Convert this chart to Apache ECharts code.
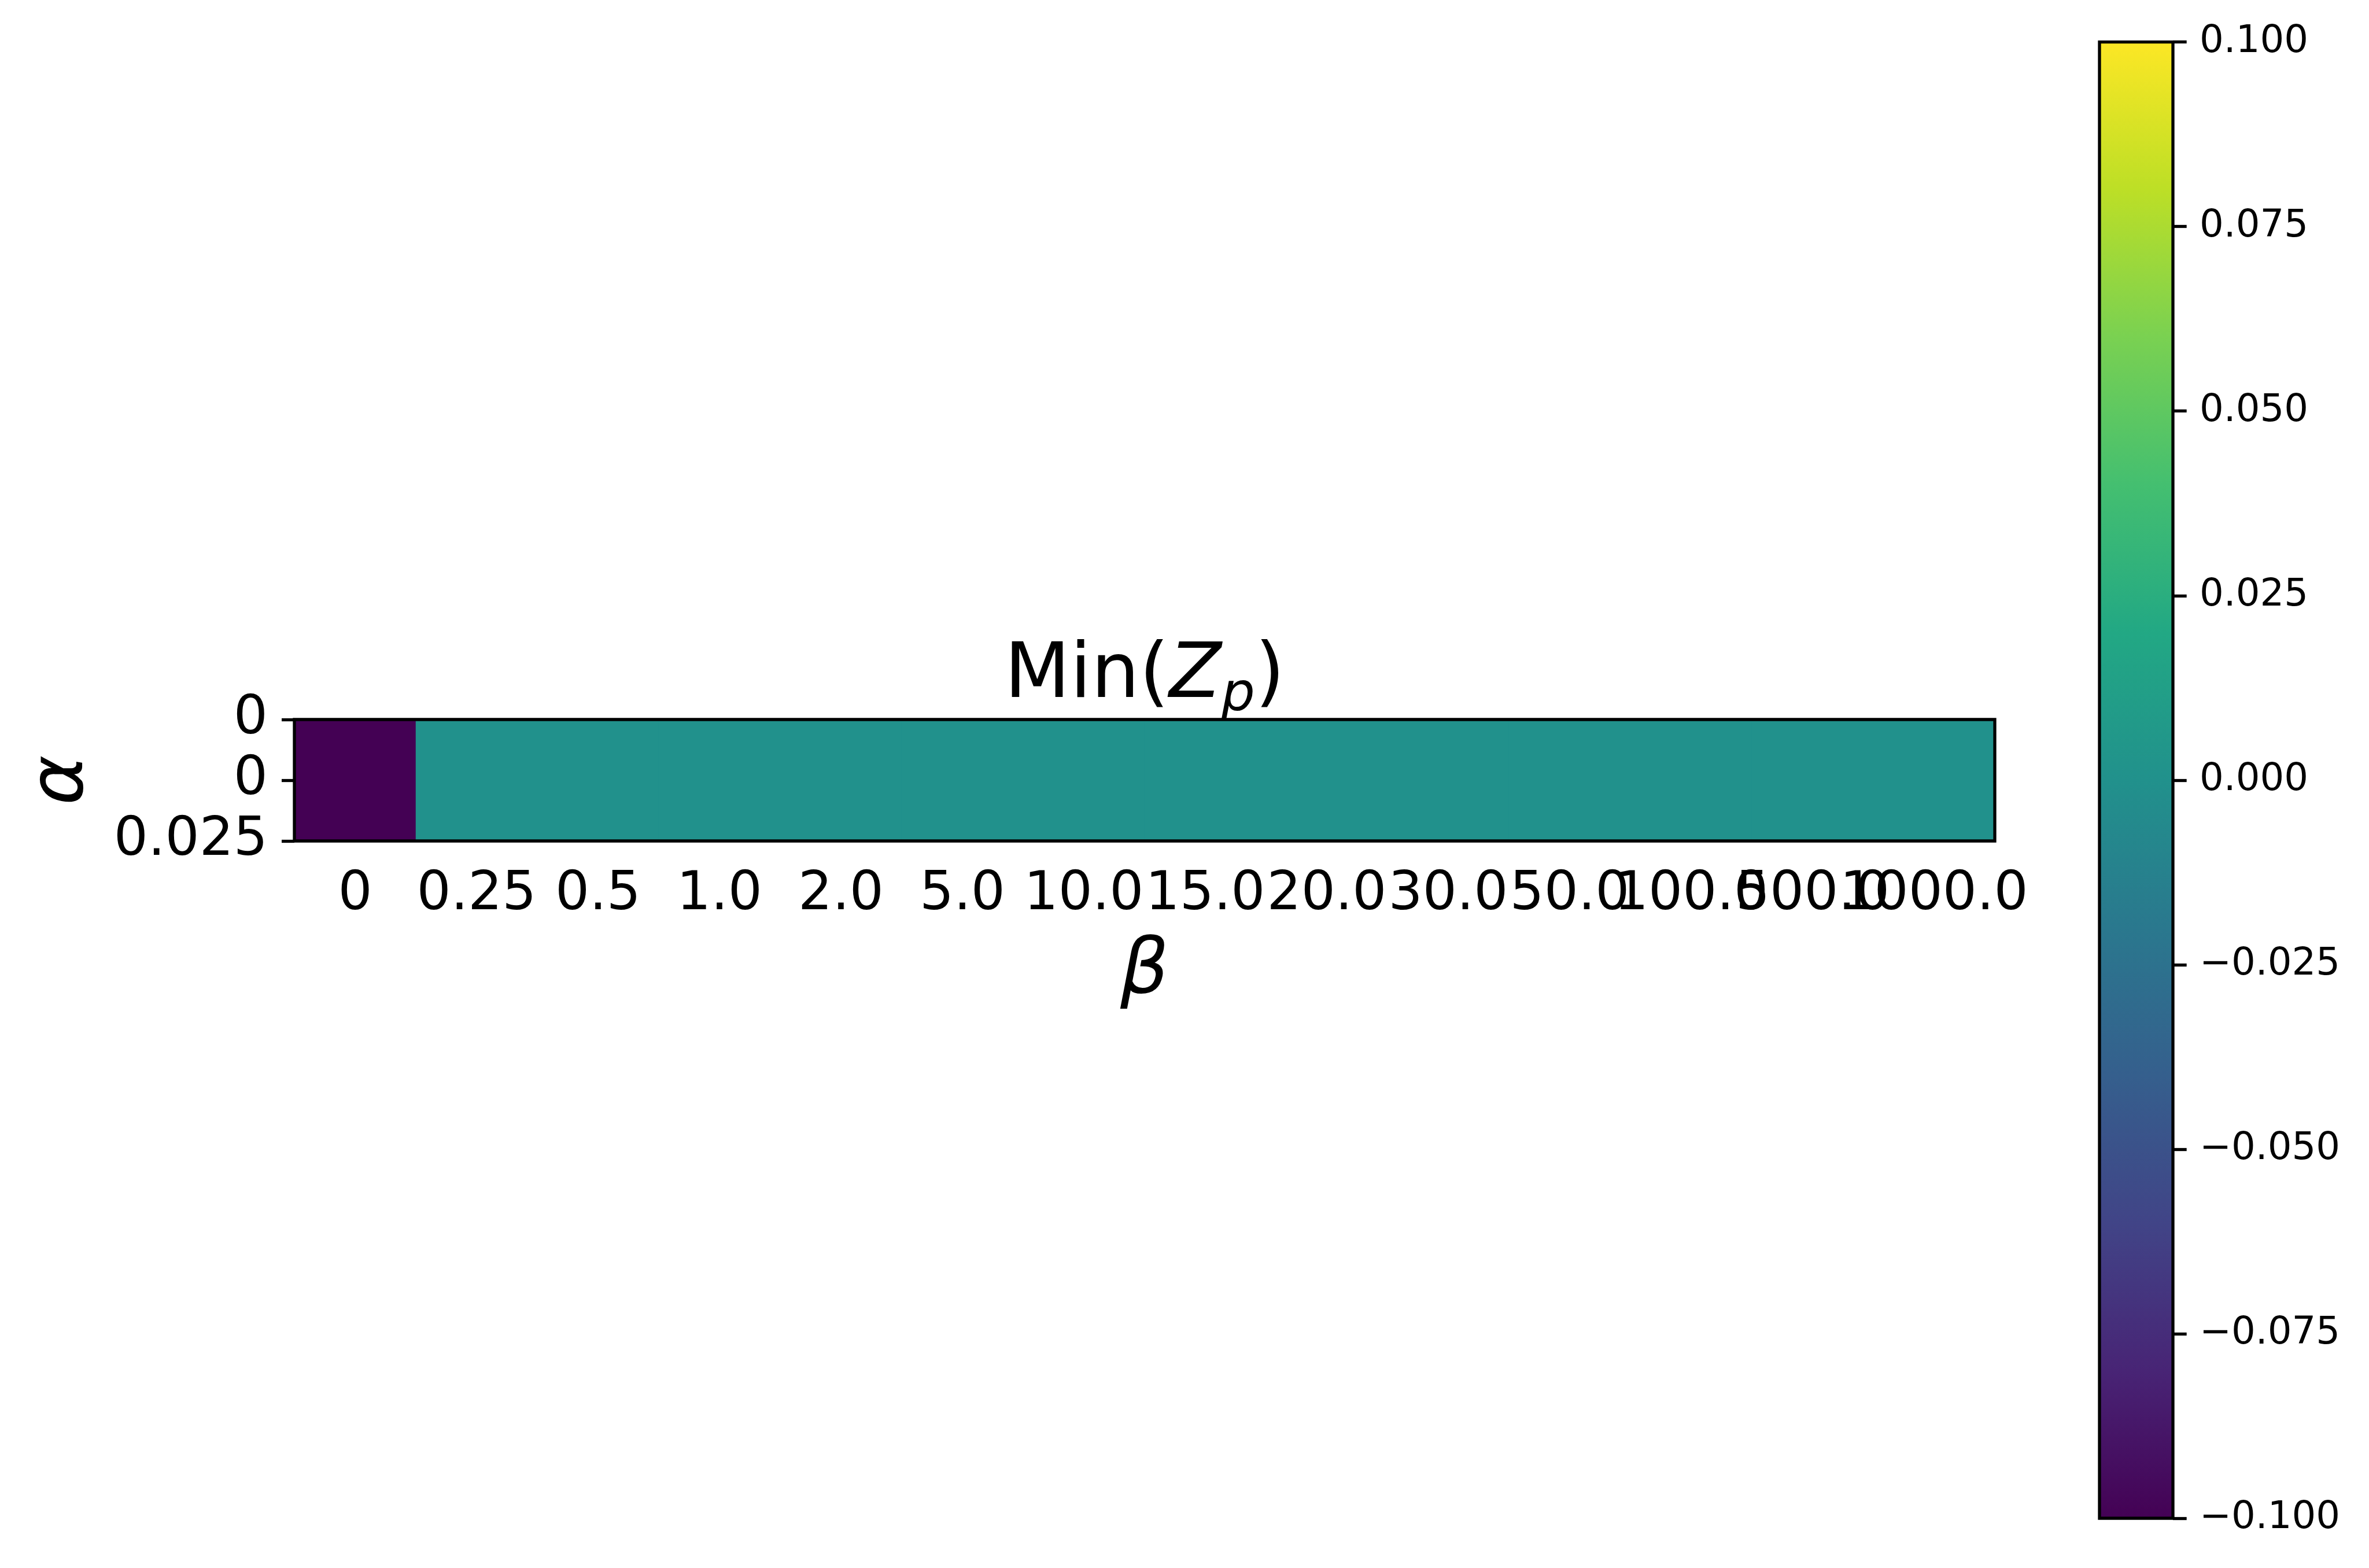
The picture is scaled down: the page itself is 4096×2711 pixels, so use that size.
<!DOCTYPE html>
<html><head><meta charset="utf-8">
<script src="https://cdn.jsdelivr.net/npm/echarts@6/dist/echarts.min.js"></script>
<style>html,body{margin:0;padding:0;background:#fff}#c{width:4096px;height:2711px}</style>
</head><body><div id="c"></div>
<script>
// ---- data ----
const betaLabels = ['0','0.25','0.5','1.0','2.0','5.0','10.0','15.0','20.0','30.0','50.0','100.0','500.0','1000.0'];
const alphaRows = ['0'];
const minZp = [-0.1, 0, 0, 0, 0, 0, 0, 0, 0, 0, 0, 0, 0, 0];
const alphaTickLabels = ['0', '0', '0.025'];
const colorbarTickLabels = ['\u22120.100','\u22120.075','\u22120.050','\u22120.025','0.000','0.025','0.050','0.075','0.100'];
const colorMin = -0.1, colorMax = 0.1, colorStep = 0.025;
const viridis = ['#440154','#482475','#414487','#355f8d','#2a788e','#21918c','#22a884','#44bf70','#7ad151','#bddf26','#fde725'];

// ---- chart ----
const FONT = 'DejaVu Sans';
const chart = echarts.init(document.getElementById('c'), null, {renderer: 'canvas', width: 4096, height: 2711});
const tickStyle = {color: '#000', width: 5.3};
const gradStops = viridis.map((c, i) => ({offset: i / (viridis.length - 1), color: c}));

const option = {
  animation: false,
  backgroundColor: '#fff',
  grid: [
    {left: 509, top: 1244, width: 2940, height: 210, show: true, z: 10,
     borderColor: '#000', borderWidth: 5.3, backgroundColor: 'transparent'},
    {left: 3630, top: 72.6, width: 127, height: 2552.4, show: true,
     borderColor: '#000', borderWidth: 5.3,
     backgroundColor: new echarts.graphic.LinearGradient(0, 1, 0, 0, gradStops)}
  ],
  xAxis: [
    {type: 'category', gridIndex: 0, data: betaLabels,
     axisLine: {show: false},
     axisTick: {show: true, alignWithLabel: true, length: 23, lineStyle: tickStyle},
     axisLabel: {interval: 0, hideOverlap: false, margin: 47, fontSize: 93, color: '#000', fontFamily: FONT},
     splitLine: {show: false},
     name: 'β', nameLocation: 'middle', nameGap: 163,
     nameTextStyle: {fontSize: 131.5, fontStyle: 'italic', fontFamily: FONT, color: '#000'}},
    {type: 'category', gridIndex: 1, data: [''], show: false}
  ],
  yAxis: [
    {type: 'category', gridIndex: 0, data: alphaRows, show: false},
    {type: 'value', gridIndex: 0, position: 'left', min: -0.5, max: 0.5, interval: 0.5, inverse: true,
     axisLine: {show: false},
     axisTick: {show: true, length: 22, lineStyle: tickStyle},
     axisLabel: {formatter: (v, i) => alphaTickLabels[i], margin: 46, fontSize: 93, color: '#000', fontFamily: FONT,
                 padding: [18, 0, 0, 0]},
     splitLine: {show: false},
     name: 'α', nameLocation: 'middle', nameGap: 335, nameRotate: 90,
     nameTextStyle: {fontSize: 131.5, fontStyle: 'italic', fontFamily: FONT, color: '#000'}},
    {type: 'value', gridIndex: 1, position: 'right', min: colorMin, max: colorMax, interval: colorStep,
     axisLine: {show: false},
     axisTick: {show: true, length: 23.7, lineStyle: tickStyle},
     axisLabel: {formatter: (v, i) => colorbarTickLabels[i], margin: 46, fontSize: 65.7, color: '#000', fontFamily: FONT,
                 padding: [10, 0, 0, 0]},
     splitLine: {show: false}}
  ],
  visualMap: {
    show: false, type: 'continuous', min: colorMin, max: colorMax, dimension: 2, seriesIndex: 0,
    inRange: {color: viridis}
  },
  series: [{
    type: 'heatmap', xAxisIndex: 0, yAxisIndex: 0,
    data: minZp.map((v, i) => [i, 0, v]),
    itemStyle: {borderWidth: 0}
  }],
  graphic: [{
    type: 'text', x: 1979, y: 1092,
    style: {
      text: 'Min({z|Z}{p|p})',
      font: '131.5px "DejaVu Sans"', fill: '#000', align: 'center', verticalAlign: 'top',
      lineHeight: 158,
      rich: {
        z: {fontStyle: 'italic', fontSize: 131.5, fontFamily: FONT, lineHeight: 158},
        p: {fontStyle: 'italic', fontSize: 92, fontFamily: FONT, lineHeight: 92, verticalAlign: 'bottom'}
      }
    }
  }]
};
chart.setOption(option);
</script></body></html>
